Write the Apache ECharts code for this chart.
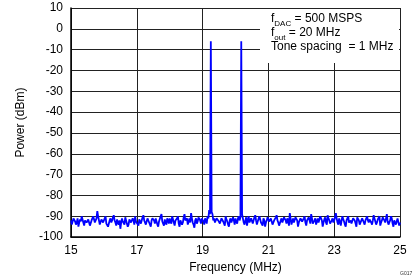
<!DOCTYPE html>
<html><head><meta charset="utf-8">
<script src="https://cdn.jsdelivr.net/npm/echarts@6/dist/echarts.min.js"></script>
<style>html,body{margin:0;padding:0;background:#fff}#c{width:419px;height:279px}</style>
</head><body><div id="c"></div>
<script>
var freqStart = 15, freqStep = 0.025;
var power = [
-92,-94,-93.5,-91,-90.5,-92.5,-94,-93,-91,-95,-93,-91.5,-92.5,-90,-90,-93,-94.5,-92,-91.5,-93,
-93,-91.5,-91,-94.5,-94,-92,-92,-90,-90.5,-93,-93.5,-91,-87.5,-90,-92,-94,-94,-91.5,-91,-93,
-92.5,-91,-90,-93.5,-93,-95,-94.5,-92,-91,-93,-92,-90.5,-89.5,-92,-93,-94.5,-91.5,-93,-94,-92,
-96,-93,-91,-92.5,-93,-94,-90.5,-92,-92.5,-95,-94,-91.5,-91,-93,-93.5,-91,-92,-94,-90,-92.5,
-92,-93,-94.5,-91.5,-91,-93.5,-93,-90.5,-89.5,-92,-92.5,-94,-94,-91,-91,-93,-93,-95,-92,-91,
-90.5,-92,-93.5,-91,-91,-94,-95,-92.5,-92,-90,-89,-92.5,-93,-94.5,-91.5,-93,-94,-91,-92,-93.5,
-91,-92.5,-93.5,-90,-89.5,-93,-94.5,-92,-92,-91,-90,-93.5,-95,-92,-91.5,-94,-93,-90.5,-89,-92,
-92.5,-91,-94,-92.5,-91,-93,-88.5,-91,-93,-94,-95.5,-92,-91,-93.5,-92.5,-90.5,-90,-92,-93.5,-91,
-91,-92.5,-94,-91,-92,-93.5,-90,-91,-87,-89,-6,-88,-89,-92,-91,-93,-93,-91,-90.5,-92,
-92,-93.5,-94,-91,-91,-92.5,-93,-94.5,-90,-91.5,-92.5,-94,-95,-92,-91,-93,-93,-90.5,-92,-94,
-91,-92.5,-93.5,-91,-90,-92,-90.5,-6,-89,-91,-93,-94,-92,-90.5,-94.5,-92,-90,-93,-92.5,-91,
-91,-93.5,-93,-90.5,-89.5,-92,-94,-92.5,-92,-90,-90.5,-93,-93,-94.5,-91,-92,-95,-93,-92,-90.5,
-90,-92.5,-93,-91,-91.5,-94,-94,-92,-92,-90.5,-89.5,-92,-93,-94.5,-95,-92,-91,-93,-92.5,-90.5,
-90,-92,-93.5,-91,-92,-94.5,-88.5,-91,-94,-92.5,-91,-93,-93,-90.5,-90.5,-92,-95,-93,-92,-91,
-91,-92.5,-93,-91,-90,-93,-94.5,-92,-92,-90.5,-91,-93.5,-89,-91,-93.5,-94,-92,-91,-94,-92.5,
-91,-93,-92.5,-90,-90,-92,-95,-93,-91.5,-90.5,-93,-94,-89.5,-91,-92,-93.5,-94,-92,-91,-93,
-92,-90.5,-88.5,-91,-93,-94,-91,-92.5,-94.5,-92,-90,-91.5,-92.5,-94,-95,-92,-91,-90,-93,-92.5,
-92,-93.5,-94,-91,-91,-92,-93.5,-95,-90.5,-91,-92,-94,-94.5,-92,-91,-90.5,-93,-94,-92,-91,
-90,-92,-93,-91.5,-91,-93,-94,-92,-89.5,-91,-92.5,-94,-93,-91.5,-91,-90,-94.5,-93,-92,-90.5,
-90.5,-92,-93,-91,-89,-92.5,-94,-93,-92,-90,-91,-93.5,-95,-92,-92.5,-94,-93.5,-91,-91,-94.5,
-93
];
var xTicks = [15,17,19,21,23,25];
var yTicks = [-100,-90,-80,-70,-60,-50,-40,-30,-20,-10,0,10];

var data = power.map(function(p,i){ return [+(freqStart + i*freqStep).toFixed(3), p]; });
var font = 'Liberation Sans, Arial, sans-serif';
var chart = echarts.init(document.getElementById('c'), null, {renderer:'canvas'});
chart.setOption({
  animation:false,
  backgroundColor:'#fff',
  grid:{left:71, right:19, top:8, bottom:39},
  xAxis:{type:'value', min:xTicks[0], max:xTicks[xTicks.length-1], interval:2,
    name:'Frequency (MHz)', nameLocation:'middle', nameGap:22,
    nameTextStyle:{fontFamily:font, fontSize:12, color:'#000'},
    axisLine:{show:true, onZero:false, lineStyle:{color:'#000', width:1.5}},
    axisTick:{show:false},
    axisLabel:{fontFamily:font, fontSize:12, color:'#000', margin:8},
    splitLine:{show:true, lineStyle:{color:'#222', width:1}}},
  yAxis:{type:'value', min:yTicks[0], max:yTicks[yTicks.length-1], interval:10,
    name:'Power (dBm)', nameLocation:'middle', nameGap:44,
    nameTextStyle:{fontFamily:font, fontSize:12, color:'#000'},
    axisLine:{show:true, onZero:false, lineStyle:{color:'#000', width:1.5}},
    axisTick:{show:false},
    axisLabel:{fontFamily:font, fontSize:12, color:'#000', margin:8},
    splitLine:{show:true, lineStyle:{color:'#222', width:1}}},
  series:[{type:'line', data:data, showSymbol:false, symbol:'none',
    lineStyle:{color:'#0000ff', width:1.8}, z:3}],
  graphic:[
    {type:'rect', shape:{x:260, y:9, width:139, height:54}, style:{fill:'#fff'}, z:10},
    {type:'text', left:271, top:13, z:11, style:{
      text:'{n|f}{s|DAC}{n| = 500 MSPS}\n{n|f}{s|out}{n| = 20 MHz}\n{n|Tone spacing  = 1 MHz}',
      rich:{n:{fontFamily:font, fontSize:12, color:'#000', lineHeight:14, verticalAlign:'bottom'},
            s:{fontFamily:font, fontSize:8, color:'#000', lineHeight:14, verticalAlign:'bottom', padding:[0,0,-3,0]}}}},
    {type:'text', left:400, top:271, z:11, style:{text:'G017', fontFamily:font, fontSize:5, fill:'#333'}}
  ]
});
</script></body></html>
